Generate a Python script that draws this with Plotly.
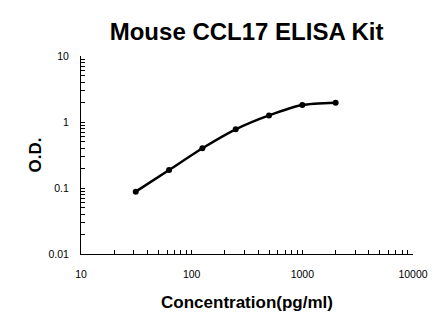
import plotly.graph_objects as go

# Standard curve: concentration (pg/ml) vs optical density
concentration = [31.25, 62.5, 125, 250, 500, 1000, 2000]
od = [0.088, 0.187, 0.40, 0.775, 1.26, 1.81, 1.96]

x_tick_vals = [10, 100, 1000, 10000]
x_tick_text = ["10", "100", "1000", "10000"]
y_tick_vals = [0.01, 0.1, 1, 10]
y_tick_text = ["0.01", "0.1", "1", "10"]

font_family = "Liberation Sans, Arial, sans-serif"

fig = go.Figure()
fig.add_trace(go.Scatter(
    x=concentration,
    y=od,
    mode="lines+markers",
    line=dict(color="black", width=2.5, shape="spline", smoothing=0.6),
    marker=dict(color="black", size=6),
    showlegend=False,
))

axis_common = dict(
    type="log",
    showline=True,
    linecolor="black",
    linewidth=1,
    showgrid=False,
    zeroline=False,
    ticks="inside",
    ticklen=4,
    tickcolor="black",
    tickwidth=1,
    tickfont=dict(family=font_family, size=10.5, color="black"),
    minor=dict(ticks="inside", ticklen=4, tickcolor="black", tickwidth=1,
               dtick="D1", showgrid=False),
    mirror=False,
)

fig.update_layout(
    width=446,
    height=326,
    margin=dict(l=81, r=33, t=56, b=72),
    paper_bgcolor="white",
    plot_bgcolor="white",
    title=dict(
        text="<b>Mouse CCL17 ELISA Kit</b>",
        font=dict(family=font_family, size=24, color="black"),
        x=0.553, xanchor="center",
        y=0.902, yanchor="middle",
    ),
    xaxis=dict(
        axis_common,
        range=[1, 4],
        tickvals=x_tick_vals,
        ticktext=x_tick_text,
        ticklabelstandoff=10,
        title=dict(text="<b>Concentration(pg/ml)</b>",
                   font=dict(family=font_family, size=17, color="black"),
                   standoff=17),
    ),
    yaxis=dict(
        axis_common,
        range=[-2, 1],
        tickvals=y_tick_vals,
        ticktext=y_tick_text,
        ticklabelstandoff=9,
        title=dict(text="<b>O.D.</b>",
                   font=dict(family=font_family, size=17, color="black"),
                   standoff=2),
    ),
)

fig.write_html("out.html")
